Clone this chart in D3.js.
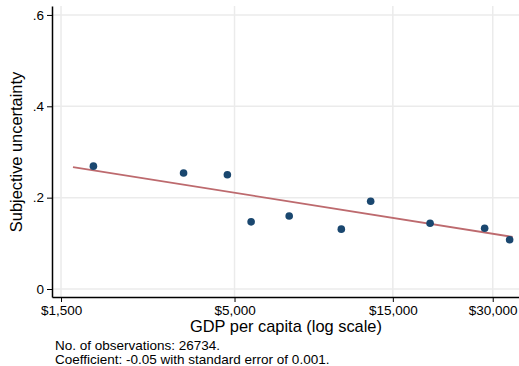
<!DOCTYPE html>
<html lang="en">
<head>
    <meta charset="UTF-8">
    <title>Subjective uncertainty vs GDP per capita</title>
    <script src="https://d3js.org/d3.v7.min.js"></script>
    <style>
        body { margin: 0; background: #fff; }
        svg { display: block; font-family: "Liberation Sans", Arial, sans-serif; }
        .grid line { stroke: #ebebeb; stroke-width: 1.5px; }
    </style>
</head>
<body>
    <script>
        // Binned scatter: GDP per capita vs mean subjective uncertainty
        const gdp = [1878, 3511, 4758, 5610, 7307, 10491, 12862, 19425, 28365, 33735];
        const uncertainty = [0.269, 0.254, 0.250, 0.147, 0.160, 0.131, 0.192, 0.144, 0.133, 0.108];

        // Linear fit endpoints (on log GDP)
        const fitGdp = [1630, 34450];
        const fitVal = [0.267, 0.114];

        const xTicks = [1500, 5000, 15000, 30000];
        const yTicks = [0, 0.2, 0.4, 0.6];
        const notes = ["No. of observations: 26734.",
                       "Coefficient: -0.05 with standard error of 0.001."];

        const width = 519, height = 366;
        const plotL = 52, plotR = 519, plotT = 6, plotB = 297;

        const svg = d3.select("body").append("svg")
            .attr("width", width)
            .attr("height", height);

        const x = d3.scaleLog().domain([1409, 36000]).range([plotL, plotR]);
        const y = d3.scaleLinear().domain([-0.0175, 0.6196]).range([plotB, plotT]);

        // Gridlines
        const grid = svg.append("g").attr("class", "grid");
        grid.selectAll(".gx").data(xTicks).enter().append("line")
            .attr("x1", d => x(d)).attr("x2", d => x(d))
            .attr("y1", plotT).attr("y2", plotB);
        grid.selectAll(".gy").data(yTicks).enter().append("line")
            .attr("x1", plotL).attr("x2", plotR)
            .attr("y1", d => y(d)).attr("y2", d => y(d));

        // Axes
        const fmtX = d => "$" + d3.format(",")(d);
        const fmtY = d => d === 0 ? "0" : d3.format(".1f")(d).replace(/^0/, "");

        const xAxis = svg.append("g")
            .attr("transform", `translate(0,${plotB})`)
            .call(d3.axisBottom(x).tickValues(xTicks).tickFormat(fmtX).tickSize(5).tickSizeOuter(0));
        const yAxis = svg.append("g")
            .attr("transform", `translate(${plotL},0)`)
            .call(d3.axisLeft(y).tickValues(yTicks).tickFormat(fmtY).tickSize(5).tickSizeOuter(0));

        [xAxis, yAxis].forEach(g => {
            g.select(".domain").attr("stroke", "#000").attr("stroke-width", 1.5);
            g.selectAll(".tick line").attr("stroke", "#000").attr("stroke-width", 1);
            g.selectAll("text").attr("fill", "#000")
                .style("font-size", "13.5px")
                .style("font-family", '"Liberation Sans", Arial, sans-serif');
        });
        xAxis.selectAll("text").attr("dy", "0.75em").attr("y", 8);
        yAxis.selectAll("text").attr("x", -8);

        // Fit line
        const line = d3.line().x(d => x(d[0])).y(d => y(d[1]));
        svg.append("path")
            .datum(d3.zip(fitGdp, fitVal))
            .attr("d", line)
            .attr("fill", "none")
            .attr("stroke", "#bd6a6e")
            .attr("stroke-width", 1.8);

        // Points
        svg.selectAll(".pt").data(d3.zip(gdp, uncertainty)).enter().append("circle")
            .attr("cx", d => x(d[0]))
            .attr("cy", d => y(d[1]))
            .attr("r", 3.8)
            .attr("fill", "#1a476f");

        // Axis titles
        svg.append("text")
            .attr("x", 286).attr("y", 332)
            .attr("text-anchor", "middle")
            .style("font-size", "16.4px")
            .text("GDP per capita (log scale)");
        svg.append("text")
            .attr("transform", "translate(22,152) rotate(-90)")
            .attr("text-anchor", "middle")
            .style("font-size", "16.4px")
            .text("Subjective uncertainty");

        // Notes
        svg.selectAll(".note").data(notes).enter().append("text")
            .attr("x", 55)
            .attr("y", (d, i) => 350 + i * 14)
            .style("font-size", "13.5px")
            .text(d => d);
    </script>
</body>
</html>
